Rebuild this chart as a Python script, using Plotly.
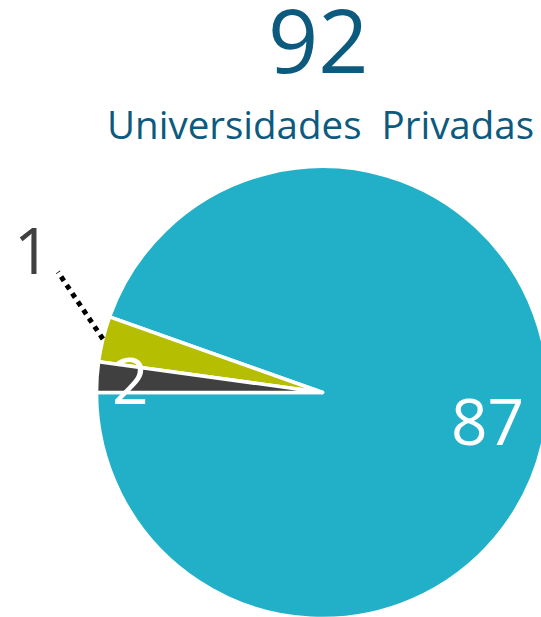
import math
import plotly.graph_objects as go

# ---- data ----
categories = ["Categoría A", "Categoría B", "Categoría C"]
values = [87, 3, 2]
label_texts = ["87", "1", "2"]
total_label = "92"
subtitle = "Universidades  Privadas"

# ---- style ----
colors = ["#22B0C9", "#B5BE00", "#404040"]
title_color = "#0C5A7E"
FONT = "Open Sans"
W, H = 560, 640
CX, CY, R = 322.5, 392.5, 226.0  # pie centre / radius in px (top-left origin)

total = sum(values)
# first slice ends (clockwise) at 9 o'clock; the rest follow counterclockwise
rotation = 270 + 360 * sum(values[1:]) / total

fig = go.Figure(go.Pie(
    labels=categories,
    values=values,
    sort=False,
    direction="counterclockwise",
    rotation=rotation,
    marker=dict(colors=colors, line=dict(color="white", width=3.5)),
    textinfo="none",
    hoverinfo="label+value",
    showlegend=False,
    domain=dict(x=[(CX - R) / W, (CX + R) / W],
                y=[(H - CY - R) / H, (H - CY + R) / H]),
))


def mid_angle(i):
    cum = sum(values[:i])
    return math.radians(180 + 360 * (cum + values[i] / 2) / total)


def to_paper(px, py):
    return px / W, 1 - py / H


def polar(i, rf):
    a = mid_angle(i)
    return CX + rf * R * math.cos(a), CY - rf * R * math.sin(a)


annotations = []
# inside labels
for i, rf, col in [(0, 0.74, "white"), (2, 0.85, "white")]:
    px, py = polar(i, rf)
    x, y = to_paper(px, py)
    annotations.append(dict(x=x, y=y, xref="paper", yref="paper", text=label_texts[i],
                            showarrow=False, font=dict(family=FONT, size=64, color=col),
                            xanchor="center", yanchor="middle"))

# outside label with dotted leader
sx, sy = polar(1, 1.0)
ex, ey = sx - 45, sy - 67
lx, ly = ex - 25, ey - 22
fig.add_shape(type="line", xref="paper", yref="paper",
              x0=sx / W, y0=1 - sy / H, x1=ex / W, y1=1 - ey / H,
              line=dict(color="black", width=5, dash="dot"))
x, y = to_paper(lx, ly)
annotations.append(dict(x=x, y=y, xref="paper", yref="paper", text=label_texts[1],
                        showarrow=False, font=dict(family=FONT, size=64, color="#404040"),
                        xanchor="center", yanchor="middle"))

# titles
x, y = to_paper(318, 39)
annotations.append(dict(x=x, y=y, xref="paper", yref="paper", text=total_label,
                        showarrow=False, font=dict(family=FONT, size=88, color=title_color),
                        xanchor="center", yanchor="middle"))
x, y = to_paper(320, 124)
annotations.append(dict(x=x, y=y, xref="paper", yref="paper", text=subtitle,
                        showarrow=False, font=dict(family=FONT, size=38.5, color=title_color),
                        xanchor="center", yanchor="middle"))

fig.update_layout(
    width=W, height=H,
    margin=dict(l=0, r=0, t=0, b=0),
    paper_bgcolor="white", plot_bgcolor="white",
    annotations=annotations,
)

fig.write_html("out.html", config={"displayModeBar": False}, post_script=(
    "document.body.style.margin='0';document.body.style.overflow='hidden';"
    "document.documentElement.style.overflow='hidden';"
))
